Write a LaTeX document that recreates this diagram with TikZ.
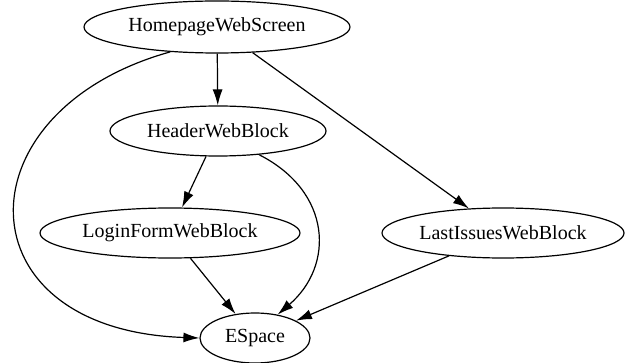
\documentclass[tikz,border=0pt]{standalone}
\usepackage{fontspec}
\setmainfont{Liberation Serif}
\usetikzlibrary{shapes.geometric, arrows.meta}

\tikzset{
	page/.style={ellipse, draw, inner sep=0pt, minimum height=25pt, font=\fontsize{10}{12}\selectfont},
	dep/.style={-{Latex[length=8, width=5]}},
}

\begin{document}
\begin{tikzpicture}[x=0.5pt, y=-0.5pt, line width=0.6pt]
	\useasboundingbox (0,0) rectangle (625,363);
	\node[page, minimum width=133pt, minimum height=26pt] (home) at (217,27) {HomepageWebScreen};
	\node[page, minimum width=108pt] (header) at (218,131) {HeaderWebBlock};
		\node[page, minimum width=130pt] (login) at (170,233) {LoginFormWebBlock};
		\node[page, minimum width=121pt] (last) at (503,233) {LastIssuesWebBlock};
	\node[page, minimum width=55pt] (espace) at (255,338) {ESpace};
	\draw[dep] (home) -- (header);
	\draw[dep] (home) -- (last);
	\draw[dep] (home.208) .. controls +(-212,59) and +(-240,-8) .. (espace.west);
	\draw[dep] (header) -- (login);
	\draw[dep] (header.330) .. controls +(73,37) and +(57,-49) .. (espace.46);
	\draw[dep] (login) -- (espace);
	\draw[dep] (last) -- (espace);
\end{tikzpicture}
\end{document}
